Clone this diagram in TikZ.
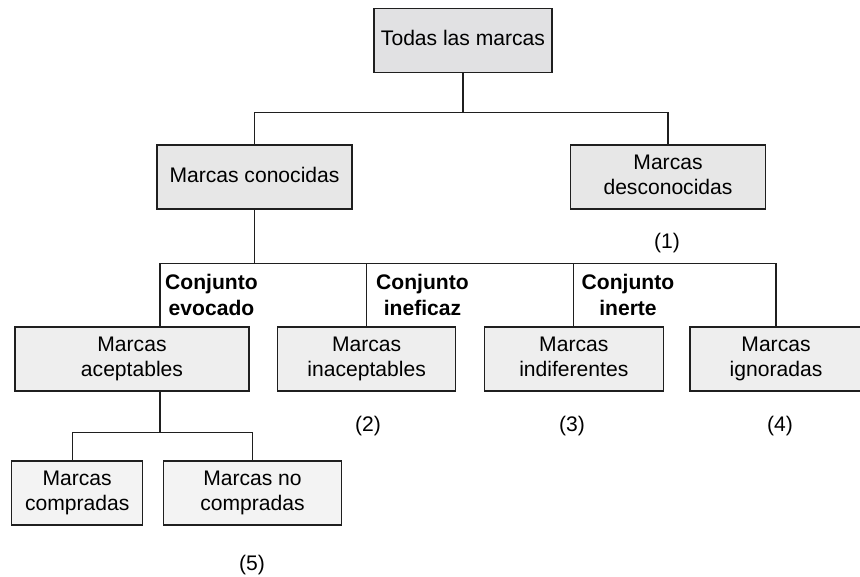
\documentclass[tikz,border=0pt]{standalone}
\usepackage{fontspec}
\setmainfont{Liberation Sans}
\usepackage{tikz}
\usetikzlibrary{calc}
\definecolor{fillA}{HTML}{E1E1E3}
\definecolor{fillB}{HTML}{E7E7E7}
\definecolor{fillC}{HTML}{EEEEEE}
\definecolor{fillD}{HTML}{F3F3F3}
\newcommand{\diagfont}{\fontsize{18}{22}\selectfont}
\tikzset{marca/.style={draw=black!88,line width=1.2pt,align=center,minimum height=1.92cm,inner sep=2pt},
  una/.style={marca,execute at begin node={\strut},execute at end node={\strut}},
  dos/.style={marca,execute at begin node={\rule{0pt}{24pt}},execute at end node={\rule[-4pt]{0pt}{4pt}}},
  conj/.style={font=\diagfont\bfseries,align=center,inner sep=0pt},
  cuenta/.style={inner sep=1pt}}

\begin{document}
\begin{tikzpicture}[x=0.03cm,y=-0.03cm,line join=miter,font=\diagfont]
\useasboundingbox (0,0) rectangle (860,576);
% --- boxes
\node[una,fill=fillA,minimum width=5.34cm] (todas) at (463,40.5) {Todas las marcas};
\node[una,fill=fillB,minimum width=5.85cm] (conoc) at (254.5,177) {Marcas conocidas};
\node[dos,fill=fillB,minimum width=5.85cm] (desc) at (668,177) {Marcas\\desconocidas};
\node[dos,fill=fillC,minimum width=7.02cm] (acept) at (132,359) {Marcas\\aceptables};
\node[dos,fill=fillC,minimum width=5.34cm] (inacep) at (366.7,359) {Marcas\\inaceptables};
\node[dos,fill=fillC,minimum width=5.37cm] (indif) at (573.8,359) {Marcas\\indiferentes};
\node[dos,fill=fillC,minimum width=5.16cm] (ignor) at (776,359) {Marcas\\ignoradas};
\node[dos,fill=fillD,minimum width=3.93cm] (compr) at (77.2,493) {Marcas\\compradas};
\node[dos,fill=fillD,minimum width=5.35cm] (nocompr) at (252.5,493) {Marcas no\\compradas};
% --- set labels
\node[conj,anchor=west] (evoc) at (165,295) {Conjunto\\evocado};
\node[conj,anchor=west] (inef) at (376,295) {Conjunto\\ineficaz};
\node[conj,anchor=west] (inert) at (581.5,295) {Conjunto\\inerte};
% --- numbers
\node[cuenta] (n1) at (667,243) {(1)};
\node[cuenta] (n2) at (368,426) {(2)};
\node[cuenta] (n3) at (572,426) {(3)};
\node[cuenta] (n4) at (780,426) {(4)};
\node[cuenta] (n5) at (252,565) {(5)};
% --- connectors
\begin{scope}[line width=1.1pt,draw=black!88]
\draw (todas.south) -- ++(0,39.5) coordinate (j1);
\draw (j1) -| (conoc.north);
\draw (j1) -| (desc.north);
\draw (conoc.south) -- ++(0,53.5) coordinate (j2);
\draw ($(acept.north)+(28,0)$) coordinate (ta) |- (j2) -| (ignor.north);
\draw (j2 -| inacep.north) -- (inacep.north);
\draw (j2 -| indif.north) -- (indif.north);
\draw ($(acept.south)+(28,0)$) -- ++(0,41) coordinate (j3);
\draw (j3) -| ($(compr.north)+(-4.5,0)$);
\draw (j3) -| (nocompr.north);
\end{scope}
\end{tikzpicture}
\end{document}
